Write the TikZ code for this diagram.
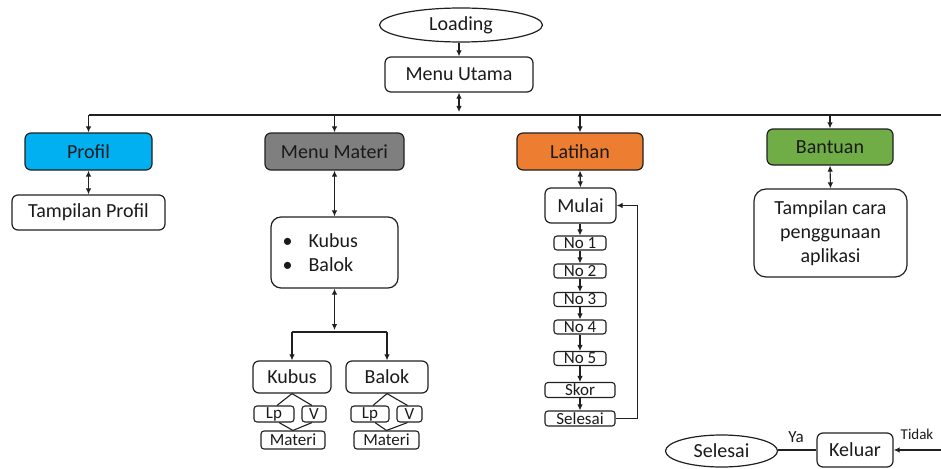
\documentclass[tikz,border=0pt]{standalone}
\usepackage{fontspec}
\setmainfont{Carlito}
\usetikzlibrary{arrows.meta,shapes.geometric,calc}
\definecolor{cprofil}{HTML}{00B0F0}
\definecolor{cmateri}{HTML}{7F7F7F}
\definecolor{clatihan}{HTML}{ED7D31}
\definecolor{cbantuan}{HTML}{70AD47}
\definecolor{cline}{HTML}{202020}
\definecolor{ctext}{HTML}{1A1A1A}
\tikzset{
  box/.style={draw=cline, line width=1.2pt, rounded corners=6pt, inner sep=0pt, text=ctext,
    font=\fontsize{20}{24}\selectfont, align=center},
  smallbox/.style={draw=cline, line width=1.1pt, rounded corners=3pt, inner sep=0pt, text=ctext,
    font=\fontsize{17}{18}\selectfont},
  tinybox/.style={draw=cline, line width=1.1pt, rounded corners=3pt, inner sep=0pt, text=ctext,
    font=\fontsize{17}{18}\selectfont},
  oval/.style={draw=cline, line width=1.2pt, ellipse, inner sep=0pt, text=ctext,
    font=\fontsize{20}{24}\selectfont},
  conn/.style={draw=cline, line width=1.1pt},
  arr/.style={conn, -{Latex[length=6pt,width=5.5pt]}},
  darr/.style={conn, {Latex[length=6pt,width=5.5pt]}-{Latex[length=6pt,width=5.5pt]}},
  lbl/.style={text=ctext, inner sep=0pt}
}
\begin{document}
\begin{tikzpicture}[x=1pt,y=-1pt]
\useasboundingbox (0,0) rectangle (941,468);
% top
\node[oval, minimum width=163pt, minimum height=34pt] (loading) at (461,25) {Loading};
\node[box, minimum width=148pt, minimum height=35pt] (menu) at (459,74.5) {Menu Utama};
\draw[arr] (loading.south -| menu.north) -- (menu.north);
\coordinate (busL) at (89,115);
\coordinate (busR) at (941,115);
\coordinate (busM) at (459,112);
\draw[darr] (menu.south) -- (busM);
\draw[conn] (busL) -- (busR);
% level 1
\node[box, fill=cprofil, minimum width=127pt, minimum height=37pt] (profil) at (88.5,151.5) {Profil};
\node[box, fill=cmateri, minimum width=139pt, minimum height=37pt] (materi) at (334.5,151.5) {Menu Materi};
\node[box, fill=clatihan, minimum width=126pt, minimum height=37pt] (latihan) at (580,151.5) {Latihan};
\node[box, fill=cbantuan, minimum width=126pt, minimum height=36pt] (bantuan) at (830,147) {Bantuan};
\foreach \n in {profil,materi,latihan,bantuan}
  \draw[arr] (\n.north |- busL) -- (\n.north);
% profil
\node[box, minimum width=153pt, minimum height=35pt] (tprofil) at (88.5,212.5) {Tampilan Profil};
\draw[darr] (profil.south) -- (tprofil.north);
% materi
\node[box, rounded corners=10pt, minimum width=127pt, minimum height=71pt] (list) at (334.5,252.5) {};
\node[lbl, anchor=west, align=left, font=\fontsize{20}{24}\selectfont] (listtxt) at ($(list.west)+(12,0)$)
  {\makebox[26pt][l]{\textbullet}Kubus\\\makebox[26pt][l]{\textbullet}Balok};
\draw[darr] (materi.south) -- (list.north);
\coordinate (split) at (334.5,330);
\draw[darr] (list.south) -- (split);
\node[box, minimum width=78pt, minimum height=32pt] (kubus) at (292,377) {Kubus};
\node[box, minimum width=82pt, minimum height=32pt] (balok) at (387,377) {Balok};
\coordinate (splitL) at (292,332);
\coordinate (splitR) at (387,332);
\draw[conn] (splitL) -- (splitR);
\draw[arr] (splitL) -- (kubus.north);
\draw[arr] (splitR) -- (balok.north);
% kubus subtree
\node[tinybox, minimum width=40pt, minimum height=16pt] (lpa) at (274,414) {Lp};
\node[tinybox, minimum width=24pt, minimum height=16pt] (va) at (314,414) {V};
\node[tinybox, minimum width=64pt, minimum height=18pt] (mata) at (293,440) {Materi};
\draw[conn] (kubus.south) -- ($(lpa.north)+(3,0)$);
\draw[conn] (kubus.south) -- ($(va.north)+(-2,0)$);
\draw[conn] ($(lpa.south)+(5,0)$) -- (mata.north);
\draw[conn] ($(va.south)+(-2,0)$) -- (mata.north);
% balok subtree
\node[tinybox, minimum width=38pt, minimum height=16pt] (lpb) at (370,414) {Lp};
\node[tinybox, minimum width=25pt, minimum height=16pt] (vb) at (409.5,414) {V};
\node[tinybox, minimum width=65pt, minimum height=18pt] (matb) at (386.5,440) {Materi};
\draw[conn] (balok.south) -- ($(lpb.north)+(3,0)$);
\draw[conn] (balok.south) -- ($(vb.north)+(-2,0)$);
\draw[conn] ($(lpb.south)+(5,0)$) -- (matb.north);
\draw[conn] ($(vb.south)+(-2,0)$) -- (matb.north);
% latihan
\node[box, minimum width=71pt, minimum height=35pt] (mulai) at (580.5,205.5) {Mulai};
\draw[darr] (latihan.south) -- (mulai.north);
\node[smallbox, minimum width=52pt, minimum height=14pt] (no1) at (580,243) {No 1};
\node[smallbox, minimum width=52pt, minimum height=14pt] (no2) at (580,271) {No 2};
\node[smallbox, minimum width=52pt, minimum height=14pt] (no3) at (580,299.5) {No 3};
\node[smallbox, minimum width=52pt, minimum height=14pt] (no4) at (580,327) {No 4};
\node[smallbox, minimum width=52pt, minimum height=14pt] (no5) at (580,358.5) {No 5};
\node[smallbox, minimum width=70pt, minimum height=15pt] (skor) at (580,390) {Skor};
\node[smallbox, minimum width=70pt, minimum height=15pt] (sel) at (580,418.5) {Selesai};
\draw[arr] (mulai.south -| no1.north) -- (no1.north);
\draw[arr] (no1) -- (no2);
\draw[arr] (no2) -- (no3);
\draw[arr] (no3) -- (no4);
\draw[arr] (no4) -- (no5);
\draw[arr] (no5) -- (skor);
\draw[arr] (skor) -- (sel);
\draw[arr] (sel.east) -- ++(22,0) |- (mulai.east);
% bantuan
\node[box, rounded corners=12pt, minimum width=153pt, minimum height=88pt] (tcara) at (830.5,233)
  {Tampilan cara\\penggunaan\\aplikasi};
\draw[darr] (bantuan.south) -- (tcara.north);
% bottom
\node[oval, minimum width=112pt, minimum height=32pt] (selesai) at (721.5,451) {Selesai};
\node[box, minimum width=76pt, minimum height=34pt] (keluar) at (855,450) {Keluar};
\draw[conn] (selesai.east |- keluar.west) -- (keluar.west);
\node[lbl, font=\fontsize{17}{18}\selectfont] (ya) at (796,437) {Ya};
\coordinate (tidakR) at (941,450);
\draw[arr] (tidakR) -- (keluar.east);
\node[lbl, font=\fontsize{15}{16}\selectfont] (tidak) at (917,434) {Tidak};
\end{tikzpicture}
\end{document}
